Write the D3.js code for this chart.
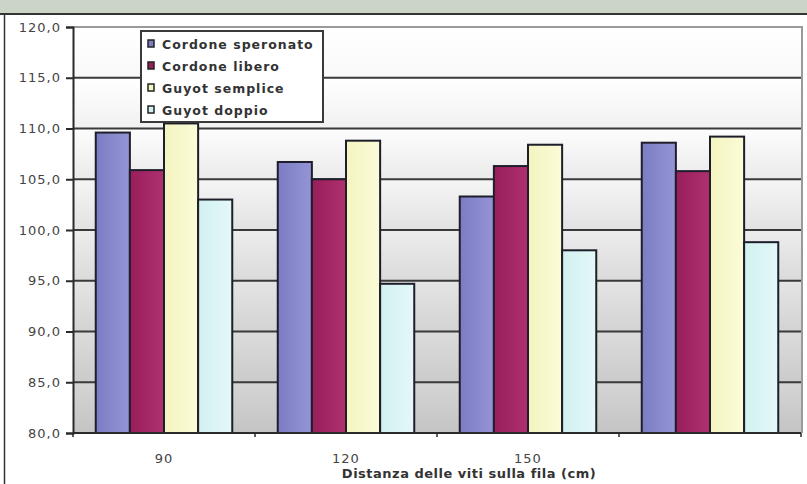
<!DOCTYPE html>
<html><head><meta charset="utf-8">
<script src="https://cdn.jsdelivr.net/npm/d3@7"></script>
<style>body{margin:0;background:#fff}svg{display:block}</style>
</head><body>
<script>
const categories = ["90", "120", "150", ""];
const seriesNames = ["Cordone speronato", "Cordone libero", "Guyot semplice", "Guyot doppio"];
const cordoneSperonato = [109.6, 106.7, 103.3, 108.6];
const cordoneLibero = [105.9, 105.0, 106.3, 105.8];
const guyotSemplice = [110.5, 108.8, 108.4, 109.2];
const guyotDoppio = [103.0, 94.7, 98.0, 98.8];
const yTicks = [80, 85, 90, 95, 100, 105, 110, 115, 120];
const xTitle = "Distanza delle viti sulla fila (cm)";
const chartTitle = "Peso grappolo / ceppo";

const series = [cordoneSperonato, cordoneLibero, guyotSemplice, guyotDoppio];
const colors = [["#7c7cc4", "#9494d6"], ["#981e5c", "#b0306e"], ["#f4f4c0", "#fbfbd8"], ["#d2f0f0", "#e4f8f8"]];
const FONT = "DejaVu Sans, Verdana, sans-serif";

const W = 807, H = 484;
const svg = d3.select("body").append("svg").attr("width", W).attr("height", H);
const defs = svg.append("defs");

// header
svg.append("rect").attr("x", 0).attr("y", 0).attr("width", W).attr("height", 14).attr("fill", "#ccd4c7");
svg.append("text").attr("x", 320).attr("y", -4.2).attr("text-anchor", "middle")
  .attr("font-family", "Liberation Sans, Arial, sans-serif").attr("font-weight", "bold").attr("font-style", "italic")
  .attr("font-size", 20).attr("fill", "#e8141c").text(chartTitle);
svg.append("line").attr("x1", 0).attr("x2", W).attr("y1", 14).attr("y2", 14).attr("stroke", "#333").attr("stroke-width", 2);
svg.append("line").attr("x1", 4.5).attr("x2", 4.5).attr("y1", 14).attr("y2", H).attr("stroke", "#333").attr("stroke-width", 1.5);

const m = {left: 73, right: 801, top: 27, bottom: 433};
const y = d3.scaleLinear().domain([80, 120]).range([m.bottom, m.top]);
const x0 = d3.scaleBand().domain(categories.map((d, i) => i)).range([m.left, m.right]).paddingInner(0.25).paddingOuter(0.125);
const x1 = d3.scaleBand().domain(d3.range(series.length)).range([0, x0.bandwidth()]);

// background bands with gradients
const bandColor = d3.scaleLinear().domain([80, 120]).range(["#c2c2c2", "#ffffff"]);
for (let i = 0; i < yTicks.length - 1; i++) {
  const lo = yTicks[i], hi = yTicks[i + 1];
  const g = defs.append("linearGradient").attr("id", "band" + i).attr("x1", 0).attr("x2", 0).attr("y1", 0).attr("y2", 1);
  g.append("stop").attr("offset", "0%").attr("stop-color", d3.color(bandColor(hi)).brighter(0.15));
  g.append("stop").attr("offset", "100%").attr("stop-color", bandColor(lo + 1));
  svg.append("rect").attr("x", m.left).attr("y", y(hi)).attr("width", m.right - m.left).attr("height", y(lo) - y(hi))
    .attr("fill", `url(#band${i})`);
}
svg.append("path").attr("d", `M${m.left},${m.top}H${m.right + 1}V${m.bottom}`).attr("fill", "none").attr("stroke", "#9a9a9a").attr("stroke-width", 2);

// gridlines
svg.append("g").selectAll("line").data(yTicks.filter(t => t > 80 && t < 120)).join("line")
  .attr("x1", m.left).attr("x2", m.right).attr("y1", d => y(d)).attr("y2", d => y(d))
  .attr("stroke", "#3a3a3a").attr("stroke-width", 2);

// bar gradients
colors.forEach((c, i) => {
  const g = defs.append("linearGradient").attr("id", "bar" + i).attr("x1", 0).attr("x2", 1).attr("y1", 0).attr("y2", 0);
  g.append("stop").attr("offset", "0%").attr("stop-color", c[0]);
  g.append("stop").attr("offset", "100%").attr("stop-color", c[1]);
});

// bars
const groups = svg.append("g").selectAll("g").data(categories).join("g")
  .attr("transform", (d, i) => `translate(${x0(i)},0)`);
groups.selectAll("rect").data((d, ci) => series.map((s, si) => ({si, v: s[ci]}))).join("rect")
  .attr("x", d => x1(d.si)).attr("width", x1.bandwidth())
  .attr("y", d => y(d.v)).attr("height", d => y(80) - y(d.v))
  .attr("fill", d => `url(#bar${d.si})`).attr("stroke", "#1e1e2a").attr("stroke-width", 2);

// y axis
const yAxis = svg.append("g").attr("transform", `translate(${m.left},0)`)
  .call(d3.axisLeft(y).tickValues(yTicks).tickSize(7).tickPadding(5).tickFormat(d => d3.format(".1f")(d).replace(".", ",")));
yAxis.select(".domain").attr("stroke", "#2a2a2a").attr("stroke-width", 2);
yAxis.selectAll(".tick line").attr("stroke", "#2a2a2a").attr("stroke-width", 2);
yAxis.selectAll("text").attr("font-family", FONT).attr("font-size", 13).attr("letter-spacing", 1).attr("fill", "#444");

// x axis
const bounds = d3.range(categories.length + 1).map(i => m.left + (m.right - m.left) * i / categories.length);
svg.append("line").attr("x1", m.left).attr("x2", m.right).attr("y1", m.bottom).attr("y2", m.bottom).attr("stroke", "#2a2a2a").attr("stroke-width", 2);
svg.append("g").selectAll("line").data(bounds).join("line")
  .attr("x1", d => d).attr("x2", d => d).attr("y1", m.bottom).attr("y2", m.bottom + 4).attr("stroke", "#2a2a2a").attr("stroke-width", 1.5);
svg.append("g").selectAll("text").data(categories).join("text")
  .attr("x", (d, i) => x0(i) + x0.bandwidth() / 2).attr("y", 463).attr("text-anchor", "middle")
  .attr("font-family", FONT).attr("font-size", 13).attr("letter-spacing", 1).attr("fill", "#444").text(d => d);
svg.append("text").attr("x", 469).attr("y", 478).attr("text-anchor", "middle")
  .attr("font-family", FONT).attr("font-weight", "bold").attr("font-size", 13).attr("letter-spacing", 0.5).attr("fill", "#333").text(xTitle);

// legend
const lg = svg.append("g");
lg.append("rect").attr("x", 141).attr("y", 31).attr("width", 182).attr("height", 91).attr("fill", "#fff").attr("stroke", "#3a3a3a").attr("stroke-width", 2);
const ly = d3.scalePoint().domain(d3.range(seriesNames.length)).range([44, 110]);
const items = lg.selectAll("g").data(seriesNames).join("g").attr("transform", (d, i) => `translate(0,${ly(i)})`);
items.append("rect").attr("x", 148).attr("y", -4).attr("width", 6).attr("height", 7)
  .attr("fill", (d, i) => colors[i][0]).attr("stroke", "#222").attr("stroke-width", 1.5);
items.append("text").attr("x", 162).attr("y", 4.5)
  .attr("font-family", FONT).attr("font-weight", "bold").attr("font-size", 12.5).attr("letter-spacing", 1).attr("fill", "#333").text(d => d);
</script>
</body></html>
